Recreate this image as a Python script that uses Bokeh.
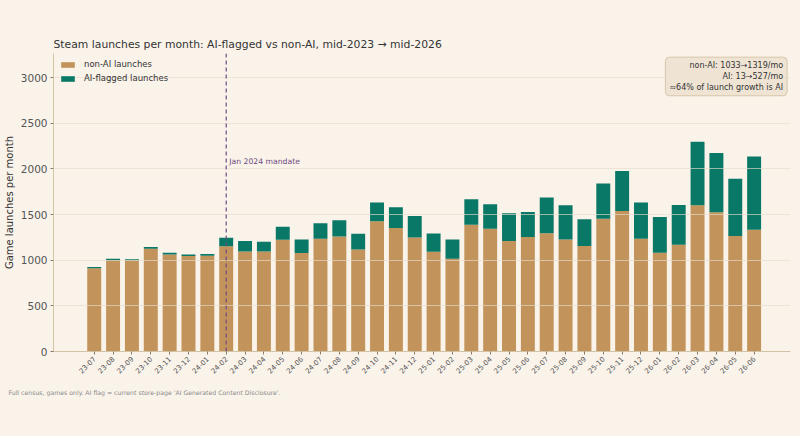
import math
from bokeh.plotting import figure
from bokeh.models import (ColumnDataSource, Range1d, FixedTicker, Span, Label, Title, Legend)
from bokeh.embed import file_html
from bokeh.resources import INLINE

months = ["23-07", "23-08", "23-09", "23-10", "23-11", "23-12",
          "24-01", "24-02", "24-03", "24-04", "24-05", "24-06",
          "24-07", "24-08", "24-09", "24-10", "24-11", "24-12",
          "25-01", "25-02", "25-03", "25-04", "25-05", "25-06",
          "25-07", "25-08", "25-09", "25-10", "25-11", "25-12",
          "26-01", "26-02", "26-03", "26-04", "26-05", "26-06"]
non_ai = [912, 1000, 1000, 1125, 1063, 1045, 1048, 1152, 1097, 1097, 1225, 1078,
          1236, 1261, 1118, 1426, 1353, 1250, 1093, 1016, 1390, 1346, 1210, 1254,
          1296, 1228, 1155, 1455, 1540, 1236, 1082, 1170, 1602, 1525, 1265, 1334]
ai_flagged = [15, 15, 12, 19, 19, 18, 19, 95, 113, 106, 143, 150,
              168, 176, 173, 206, 227, 235, 201, 212, 278, 267, 304, 275,
              392, 374, 293, 385, 437, 396, 392, 436, 697, 649, 627, 803]
mandate_month = "24-02"
y_ticks = [0, 500, 1000, 1500, 2000, 2500, 3000]
summary_lines = ["non-AI: 1033\u21921319/mo", "AI: 13\u2192527/mo", "\u224864% of launch growth is AI"]

BG = "#faf3ea"
BROWN = "#c2935a"
GREEN = "#0a7866"
FONT = "DejaVu Sans"

idx = list(range(len(months)))
src = ColumnDataSource(dict(x=idx, non_ai=non_ai, ai=ai_flagged))

p = figure(frame_width=737, frame_height=298, output_backend="svg", toolbar_location=None,
           x_range=Range1d(-2.16, 36.93), y_range=Range1d(0, 3265),
           background_fill_color=BG, border_fill_color=BG,
           min_border_left=45, min_border_right=2, min_border_top=53, min_border_bottom=60)
p.outline_line_color = None

r = p.vbar_stack(["non_ai", "ai"], x="x", width=0.74, source=src,
                 color=[BROWN, GREEN], line_color=None)

legend = Legend(items=[("non-AI launches", [r[0]]), ("AI-flagged launches", [r[1]])],
                location="top_left", border_line_color=None, background_fill_alpha=0,
                label_text_font=FONT, label_text_font_size="8.5px", label_text_color="#333333",
                glyph_width=17, glyph_height=7, label_height=9, spacing=4, padding=2,
                margin=6, label_standoff=8)
p.add_layout(legend)

# Title
p.title.text = "Steam launches per month: AI-flagged vs non-AI, mid-2023 \u2192 mid-2026"
p.title.text_font = FONT
p.title.text_font_size = "10.8px"
p.title.text_font_style = "normal"
p.title.text_color = "#333333"
p.title.align = "left"
p.title.standoff = 5

# Axes
p.xaxis.ticker = FixedTicker(ticks=idx)
p.xaxis.major_label_overrides = {i: m for i, m in zip(idx, months)}
p.xaxis.major_label_orientation = math.pi / 4
p.xaxis.major_label_text_font_size = "7px"
p.xaxis.major_label_standoff = 3
p.yaxis.ticker = FixedTicker(ticks=y_ticks)
p.yaxis.major_label_text_font_size = "10.5px"
p.yaxis.major_label_standoff = 3
p.yaxis.axis_label = "Game launches per month"
p.yaxis.axis_label_text_font_size = "10px"
p.yaxis.axis_label_text_font_style = "normal"
p.yaxis.axis_label_text_color = "#333333"
p.yaxis.axis_label_standoff = 3
for ax in (p.xaxis[0], p.yaxis[0]):
    ax.major_label_text_font = FONT
    ax.axis_label_text_font = FONT
    ax.major_label_text_color = "#555555"
    ax.axis_line_color = "#d2c2a6"
    ax.major_tick_line_color = "#8a7a66"
    ax.major_tick_out = 3
    ax.major_tick_in = 0
    ax.minor_tick_line_color = None
p.xgrid.grid_line_color = None
p.ygrid.grid_line_color = "#e6dccd"
p.ygrid.grid_line_alpha = 0.65
p.ygrid.grid_line_width = 1
p.ygrid.level = "guide"

# Mandate line
mx = months.index(mandate_month)
p.add_layout(Span(location=mx, dimension="height", line_color="#6e4a82",
                  line_dash="4 3", line_width=1.2))
p.add_layout(Label(x=mx, y=2080, x_offset=3, text="Jan 2024 mandate", text_font=FONT,
                   text_font_size="7.7px", text_color="#6e4a82", text_baseline="middle"))

# Summary box
p.add_layout(Label(x=36.75, y=3225, text="\n".join(summary_lines), text_align="right",
                   text_baseline="top", text_font=FONT, text_font_size="8px",
                   text_color="#333333", background_fill_color="#efe4d3",
                   border_line_color="#d8c6aa", padding=4, border_radius=4))

# Footnote
p.add_layout(Title(text="Full census, games only. AI flag = current store-page 'AI Generated Content Disclosure'.",
                   align="left", offset=-45, text_font=FONT, text_font_size="6.2px",
                   text_font_style="normal", text_color="#8a8a8a", standoff=15), "below")

html = file_html(p, INLINE)
html = html.replace("<body>", '<body style="background:%s">' % BG)
open("out.html", "w").write(html)
